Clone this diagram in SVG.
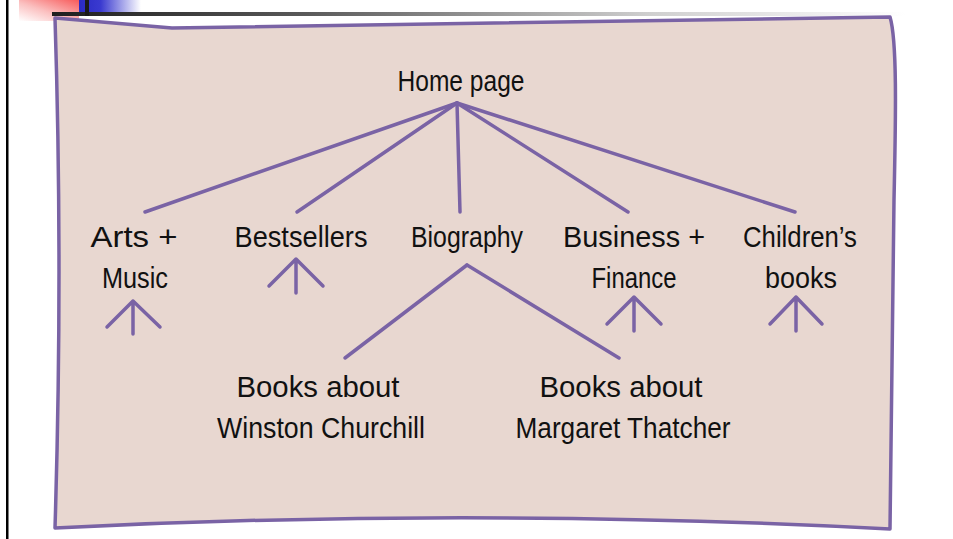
<svg xmlns="http://www.w3.org/2000/svg" width="953" height="539" viewBox="0 0 953 539">
  <defs>
    <linearGradient id="redFade" x1="1" y1="0" x2="0" y2="1">
      <stop offset="0" stop-color="#f75a5a"/>
      <stop offset="0.55" stop-color="#fbc0c0"/>
      <stop offset="1" stop-color="#ffffff"/>
    </linearGradient>
    <linearGradient id="blueFade" x1="0" y1="0" x2="1" y2="0">
      <stop offset="0" stop-color="#2a2ac4"/>
      <stop offset="0.35" stop-color="#3a3ad0"/>
      <stop offset="1" stop-color="#ffffff"/>
    </linearGradient>
    <linearGradient id="ruleFade" gradientUnits="userSpaceOnUse" x1="52" y1="0" x2="905" y2="0">
      <stop offset="0" stop-color="#1e1e1e"/>
      <stop offset="0.3" stop-color="#5a5a5a"/>
      <stop offset="0.7" stop-color="#cfcfcf"/>
      <stop offset="1" stop-color="#ffffff"/>
    </linearGradient>
    <style>
      .paper { fill: #e8d7d0; stroke: #7a63a5; stroke-width: 3.5; stroke-linejoin: round; }
      .edge { fill: none; stroke: #7a63a5; stroke-width: 3.5; stroke-linecap: round; stroke-linejoin: round; }
      .label { font-family: "Liberation Sans", "DejaVu Sans", sans-serif; font-size: 30px; fill: #111111; text-anchor: middle; }
    </style>
  </defs>

  <rect width="953" height="539" fill="#ffffff"/>

  <!-- slide decoration -->
  <rect x="6" y="0" width="2.5" height="539" fill="#000000"/>
  <rect x="19" y="0" width="60" height="21" fill="url(#redFade)"/>
  <rect x="79" y="0" width="62" height="16" fill="url(#blueFade)"/>
  <rect x="52" y="12" width="853" height="4" fill="url(#ruleFade)"/>
  <rect x="85" y="0" width="4" height="16" fill="#1a1a1a"/>

  <!-- paper sheet -->
  <path class="paper" d="M55,18 L172,28 L890,17 C897,40 896,110 894,200 L890,529 Q470,507 55,528 Q63,270 55,18 Z"/>

  <!-- connectors -->
  <g id="connectors">
    <path class="edge" d="M457,103 L145,212"/>
    <path class="edge" d="M457,103 L297,212"/>
    <path class="edge" d="M457,103 L460,212"/>
    <path class="edge" d="M457,103 L628,212"/>
    <path class="edge" d="M457,103 L795,212"/>
    <path class="edge" d="M467,265 L345,358"/>
    <path class="edge" d="M467,265 L619,358"/>
    <!-- "more pages" arrows -->
    <path class="edge" d="M107,327 L133,301 L160,327 M133,301 L133,334"/>
    <path class="edge" d="M269,286 L296,259 L323,286 M296,259 L296,293"/>
    <path class="edge" d="M607,324 L634,297 L661,324 M634,297 L634,331"/>
    <path class="edge" d="M770,324 L796,297 L822,324 M796,297 L796,331"/>
  </g>

  <g id="home">
    <text class="label" x="461" y="91" textLength="127" lengthAdjust="spacingAndGlyphs">Home page</text>
  </g>
  <g id="arts">
    <text class="label" x="134" y="247" textLength="87" lengthAdjust="spacingAndGlyphs">Arts +</text>
    <text class="label" x="135" y="288" textLength="66" lengthAdjust="spacingAndGlyphs">Music</text>
  </g>
  <g id="bestsellers">
    <text class="label" x="301" y="247" textLength="133" lengthAdjust="spacingAndGlyphs">Bestsellers</text>
  </g>
  <g id="biography">
    <text class="label" x="467" y="247" textLength="112" lengthAdjust="spacingAndGlyphs">Biography</text>
  </g>
  <g id="business">
    <text class="label" x="634" y="247" textLength="142" lengthAdjust="spacingAndGlyphs">Business +</text>
    <text class="label" x="634" y="288" textLength="85" lengthAdjust="spacingAndGlyphs">Finance</text>
  </g>
  <g id="childrens">
    <text class="label" x="800" y="247" textLength="114" lengthAdjust="spacingAndGlyphs">Children’s</text>
    <text class="label" x="801" y="288" textLength="72" lengthAdjust="spacingAndGlyphs">books</text>
  </g>
  <g id="churchill">
    <text class="label" x="318" y="397" textLength="163" lengthAdjust="spacingAndGlyphs">Books about</text>
    <text class="label" x="321" y="438" textLength="208" lengthAdjust="spacingAndGlyphs">Winston Churchill</text>
  </g>
  <g id="thatcher">
    <text class="label" x="621" y="397" textLength="163" lengthAdjust="spacingAndGlyphs">Books about</text>
    <text class="label" x="623" y="438" textLength="215" lengthAdjust="spacingAndGlyphs">Margaret Thatcher</text>
  </g>
</svg>
